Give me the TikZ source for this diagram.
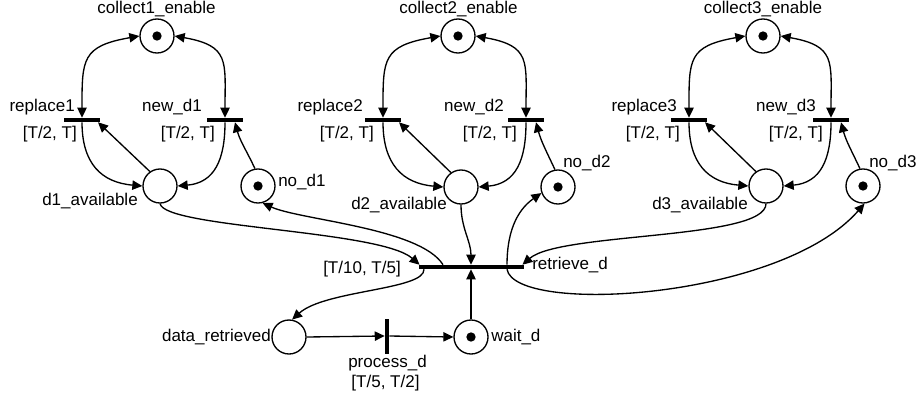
\documentclass[tikz,border=0pt]{standalone}
\usepackage{fontspec}
\setmainfont{Liberation Sans}
\usetikzlibrary{arrows.meta,calc}
\begin{document}
\begin{tikzpicture}[x=0.75pt,y=0.75pt,
  >={Triangle[length=7.5pt,width=7pt]},
  arc/.style={line width=1pt,->},
  place/.style={circle,draw,line width=1pt,minimum size=25.5pt,inner sep=0pt},
  marked/.style={place,path picture={\fill (path picture bounding box.center) circle (3.5pt);}},
  hbar/.style={rectangle,fill=black,minimum width=27pt,minimum height=3pt,inner sep=0pt},
  vbar/.style={rectangle,fill=black,minimum width=3pt,minimum height=26.25pt,inner sep=0pt},
  txt/.style={inner sep=0pt,font=\fontsize{12.75pt}{15pt}\selectfont}
]
\useasboundingbox (0,0) rectangle (919,-403);

% places of the three collection loops
\node[marked] (c1) at (157,-36) {};
\node[marked] (c2) at (458,-36) {};
\node[marked] (c3) at (763,-36) {};
\node[place]  (a1) at (160,-186) {};
\node[place]  (a2) at (461,-187) {};
\node[place]  (a3) at (766,-186) {};
\node[marked] (z1) at (258,-186) {};
\node[marked] (z2) at (558,-187) {};
\node[marked] (z3) at (863,-186) {};

% transitions of the collection loops
\node[hbar] (r1) at (82,-120) {};
\node[hbar] (r2) at (383,-120) {};
\node[hbar] (r3) at (689,-120) {};
\node[hbar] (n1) at (225,-120) {};
\node[hbar] (n2) at (526,-120) {};
\node[hbar] (n3) at (831,-120) {};

% retrieval and processing
\node[hbar,minimum width=78.75pt] (rd) at (471,-267) {};
\node[place]  (dr) at (289,-337) {};
\node[marked] (wd) at (471,-337) {};
\node[vbar]   (pd) at (387,-336) {};

% labels
\node[txt,anchor=base] (lc1) at (156.5,-14) {collect1\_enable};
\node[txt,anchor=base] (lc2) at (458.5,-14) {collect2\_enable};
\node[txt,anchor=base] (lc3) at (763,-14) {collect3\_enable};
\node[txt,anchor=base east] (lr1) at (75,-111) {replace1};
\node[txt,anchor=base east] (lr2) at (363,-111) {replace2};
\node[txt,anchor=base east] (lr3) at (677,-111) {replace3};
\node[txt,anchor=base east] (tr1) at (77,-138.5) {[T/2, T]};
\node[txt,anchor=base east] (tr2) at (374,-138.5) {[T/2, T]};
\node[txt,anchor=base east] (tr3) at (680,-138.5) {[T/2, T]};
\node[txt,anchor=base east] (ln1) at (202,-111) {new\_d1};
\node[txt,anchor=base east] (ln2) at (504,-111) {new\_d2};
\node[txt,anchor=base east] (ln3) at (816,-111) {new\_d3};
\node[txt,anchor=base east] (tn1) at (215,-138.5) {[T/2, T]};
\node[txt,anchor=base east] (tn2) at (517,-138.5) {[T/2, T]};
\node[txt,anchor=base east] (tn3) at (823,-138.5) {[T/2, T]};
\node[txt,anchor=base east] (la1) at (138,-205) {d1\_available};
\node[txt,anchor=base east] (la2) at (447,-209) {d2\_available};
\node[txt,anchor=base east] (la3) at (748,-209) {d3\_available};
\node[txt,anchor=base west] (lz1) at (278,-186) {no\_d1};
\node[txt,anchor=base west] (lz2) at (563,-167) {no\_d2};
\node[txt,anchor=base west] (lz3) at (869,-167) {no\_d3};
\node[txt,anchor=base east] (trd) at (401,-273) {[T/10, T/5]};
\node[txt,anchor=base west] (lrd) at (532,-269) {retrieve\_d};
\node[txt,anchor=base east] (ldr) at (271,-341) {data\_retrieved};
\node[txt,anchor=base west] (lwd) at (491,-341) {wait\_d};
\node[txt,anchor=base] (lpd) at (387.5,-367) {process\_d};
\node[txt,anchor=base] (tpd) at (385.5,-387) {[T/5, T/2]};

% arcs of each collection loop
\foreach \i in {1,2,3} {
  \draw[arc,<->] (r\i.north) to[out=90,in=190,looseness=1.5] (c\i.west);
  \draw[arc,<->] (c\i.east) to[out=-10,in=90,looseness=1.5] (n\i.north);
  \draw[arc] (r\i.south) to[out=-90,in=175,looseness=1.2] (a\i.west);
  \draw[arc] (n\i.south) to[out=-90,in=5,looseness=1.2] (a\i.east);
  \draw[arc] (a\i.125) -- ([xshift=12pt]r\i.south);
  \draw[arc] (z\i.100) to[out=115,in=-75] ([xshift=7.5pt]n\i.south);
}

% arcs of the retrieval step
\draw[arc] (a1.south) .. controls (165,-228) and (380,-230) .. ([xshift=1pt]rd.north west);
\draw[arc] ([xshift=-21pt]rd.north) .. controls (420,-228) and (300,-220) .. (z1.-75);
\draw[arc] (a2.south) to[out=-90,in=90] (rd.north);
\draw[arc] ([xshift=27pt]rd.north) to[out=90,in=215] (z2.200);
\draw[arc] (a3.south) .. controls (766,-240) and (560,-232) .. ([xshift=-1pt]rd.north east);
\draw[arc] ([xshift=27pt]rd.south) .. controls (515,-315) and (780,-300) .. (z3.-85);
\draw[arc] ([xshift=-35.25pt]rd.south) .. controls (425,-290) and (325,-290) .. (dr.80);
\draw[arc] (dr.east) -- (pd.west);
\draw[arc] (pd.east) -- (wd.west);
\draw[arc] (wd.north) -- (wd.north |- rd.south);
\end{tikzpicture}
\end{document}
